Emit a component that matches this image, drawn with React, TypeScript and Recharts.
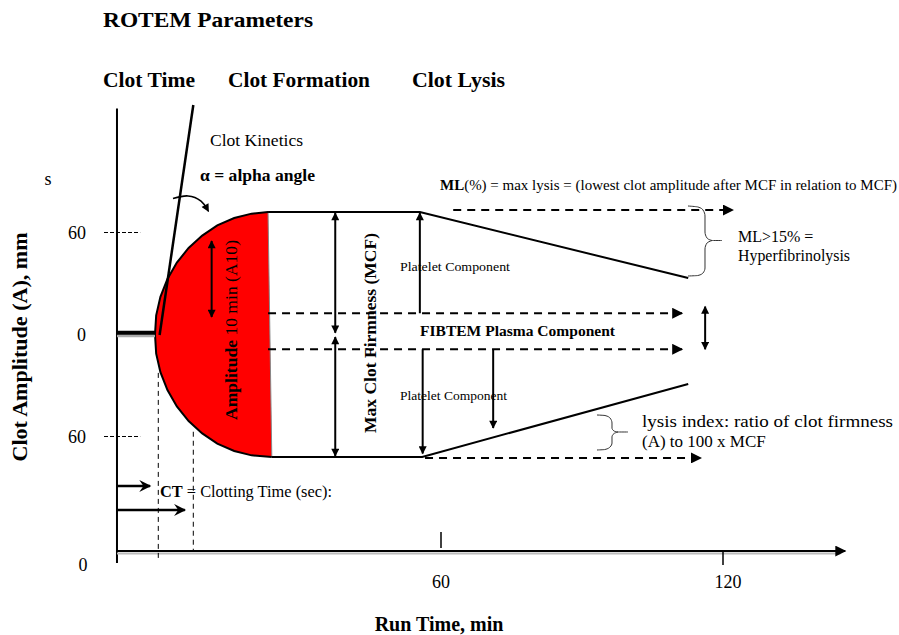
import React from "react";
import { ComposedChart, XAxis, YAxis, Line, Area, ReferenceLine, ReferenceDot } from "recharts";

const W = 899;
const H = 635;
const SERIF = "Liberation Serif, Times New Roman, Times, serif";
const TXT = { fontFamily: SERIF } as React.CSSProperties;

// Schematic coordinate system: run time (min) and clot amplitude (mm)
const timeDomain = [-30, 155];
const ampDomain = [-150, 190];

// Tick values and labels
const xTickValues = [60, 120];
const xTickLabels = ["60", "120"];
const yTickValues = [60, 0, -60];
const yTickLabels = ["60", "0", "60"];
const originLabel = "0";

// Clot formation curve: from clotting onset (left tip) to MCF
const arcUpperT = [-0.85, -0.6, 0.3, 1.8, 3.8, 6.3, 9.2, 12.4, 16.0, 19.7, 23.2];
const arcUpperA = [0, 11.3, 22.2, 32.7, 42.3, 50.9, 58.2, 64.2, 68.5, 71.1, 72];
const arcLowerT = [-0.85, -0.6, 0.3, 1.8, 3.8, 6.3, 9.2, 12.4, 16.0, 19.7, 24.0];
const arcLowerA = [0, -11.3, -22.2, -32.7, -42.3, -50.9, -58.2, -64.2, -68.5, -71.1, -72];

// MCF plateau and lysis traces
const upperTraceT = [23.2, 55.5, 112.6];
const upperTraceA = [72, 72, 33.2];
const lowerTraceT = [24.0, 56.0, 112.6];
const lowerTraceA = [-72, -72, -29.1];

// alpha-angle curved arrow
const alphaArcT = [2.98, 6.17, 8.94, 10.21];
const alphaArcA = [80.0, 81.5, 78.5, 73.8];

// Braces
const mlBraceTopT = [112.55, 114.68, 115.74, 116.17, 116.17, 116.6, 117.66, 119.79];
const mlBraceTopA = [75.59, 75.0, 73.24, 69.71, 60.29, 56.76, 55.29, 55.29];
const mlBraceBotT = [117.66, 116.6, 116.17, 116.17, 115.74, 114.68, 112.55];
const mlBraceBotA = [55.29, 53.82, 50.29, 39.12, 36.18, 34.71, 34.41];
const liBraceTopT = [93.19, 94.89, 95.96, 96.38, 96.38, 96.81, 97.66, 99.79];
const liBraceTopA = [-47.35, -47.65, -49.12, -52.06, -55.0, -56.76, -57.35, -57.35];
const liBraceBotT = [97.66, 96.81, 96.38, 96.38, 95.96, 94.89, 93.19];
const liBraceBotA = [-57.35, -58.24, -60.29, -63.82, -66.18, -67.65, -67.94];

// Straight segments [t1, A1, t2, A2]
const yAxisSeg = [-8.94, 133, -8.94, -134.4];
const xAxisSeg = [-8.94, -127.4, 146, -127.4];
const xAxisShadowSeg = [-8.94, -128.8, 145, -128.8];
const stubSeg = [-8.94, 1, -0.85, 1];
const stubShadowSeg = [-8.94, -0.8, -0.85, -0.8];
const alphaLineSeg = [7.3, 135, 0.13, -0.3];
const alphaHeadSeg = [9.89, 75.6, 10.53, 72.4];
const ctDash1Seg = [-0.15, -22.6, -0.15, -131.5];
const ctDash2Seg = [7.3, -57.2, 7.3, -126.8];
const ctArrow1Seg = [-8.94, -89.1, -1.9, -89.1];
const ctArrow2Seg = [-8.94, -103.2, 5.5, -103.2];
const a10Seg = [11.2, 55, 11.2, 10.3];
const mcfUpperSeg = [37.5, 71.5, 37.5, 1];
const mcfLowerSeg = [37.5, -1.5, 37.5, -71.5];
const plateletUpSeg = [55.5, 12.5, 55.5, 71.5];
const plateletDownSeg = [56.1, -8.7, 56.1, -70];
const lysisDownSeg = [71.1, -8.7, 71.1, -55];
const fibUpperSeg = [23.2, 12.5, 111.3, 12.5];
const fibLowerSeg = [23.2, -8.7, 111.3, -8.7];
const fibSpanSeg = [116.2, 16.4, 116.2, -8.7];
const mlDashSeg = [62.6, 73.2, 122.1, 73.2];
const liDashSeg = [56.6, -72.6, 115.3, -72.6];
const redEdgeSeg = [23.2, 72, 24.0, -72];
const xTickSpans = [
  [-116.2, -125.6],
  [-127.4, -135.6],
];
const yTickDashT = [-11.7, -4];

const pts = (T: number[], A: number[]) => T.map((t, i) => ({ t, A: A[i] }));

const redFill = [
  ...arcUpperT.map((t, i) => ({ t, range: [arcLowerA[i], arcUpperA[i]] })),
  { t: arcLowerT[arcLowerT.length - 1], range: [arcLowerA[arcLowerA.length - 1], arcLowerA[arcLowerA.length - 1]] },
];

const arcOutline = [
  ...pts(arcUpperT, arcUpperA).reverse(),
  ...pts(arcLowerT, arcLowerA).slice(1),
];

const seg = (key: string, s: number[], style: any) => (
  <ReferenceLine
    key={key}
    segment={[
      { x: s[0], y: s[1] },
      { x: s[2], y: s[3] },
    ]}
    ifOverflow="visible"
    shape={(p: any) => <line x1={p.x1} y1={p.y1} x2={p.x2} y2={p.y2} fill="none" {...style} />}
  />
);

const solid = (w: number) => ({ stroke: "#000", strokeWidth: w });
const dashed = { stroke: "#000", strokeWidth: 2, strokeDasharray: "8 6" };
const thinDash = { stroke: "#000", strokeWidth: 1, strokeDasharray: "5 4" };

const line = (key: string, data: any[], w: number, color = "#000", type: any = "linear") => (
  <Line
    key={key}
    data={data}
    dataKey="A"
    type={type}
    stroke={color}
    strokeWidth={w}
    dot={false}
    activeDot={false}
    isAnimationActive={false}
    legendType="none"
  />
);

export default function App() {
  return (
    <div style={{ position: "absolute", left: 0, top: 0, width: W, height: H, background: "#fff", fontFamily: SERIF }}>
      <svg width={0} height={0} style={{ position: "absolute" }}>
        <defs>
          <marker id="ahL" viewBox="0 0 10 10" refX="9" refY="5" markerWidth="13" markerHeight="11" markerUnits="userSpaceOnUse" orient="auto-start-reverse">
            <path d="M0,0 L10,5 L0,10 z" fill="#000" />
          </marker>
          <marker id="ahS" viewBox="0 0 10 10" refX="9" refY="5" markerWidth="9" markerHeight="8" markerUnits="userSpaceOnUse" orient="auto-start-reverse">
            <path d="M0,0 L10,5 L0,10 z" fill="#000" />
          </marker>
          <marker id="chev" viewBox="0 0 10 10" refX="9" refY="5" markerWidth="15" markerHeight="12" markerUnits="userSpaceOnUse" orient="auto">
            <path d="M0,0 L10,5 L0,10 L3.5,5 z" fill="#000" />
          </marker>
        </defs>
      </svg>
      <ComposedChart width={W} height={H} margin={{ top: 11.5, right: 11.5, bottom: 45.5, left: 18 }}>
        <XAxis type="number" dataKey="t" domain={timeDomain} allowDataOverflow hide />
        <YAxis type="number" domain={ampDomain} allowDataOverflow hide />
        <Area
          data={redFill}
          dataKey="range"
          type="linear"
          stroke="none"
          fill="#ff0000"
          fillOpacity={1}
          isAnimationActive={false}
          legendType="none"
          activeDot={false}
        />
        {seg("redEdge", redEdgeSeg, { stroke: "#888", strokeWidth: 1 })}
        {line("arc", arcOutline, 2)}
        {line("upper", pts(upperTraceT, upperTraceA), 2)}
        {line("lower", pts(lowerTraceT, lowerTraceA), 2)}
        {line("alphaArc", pts(alphaArcT, alphaArcA), 1.6, "#000", "natural")}
        {line("mlb1", pts(mlBraceTopT, mlBraceTopA), 1, "#333", "monotoneY")}
        {line("mlb2", pts(mlBraceBotT, mlBraceBotA), 1, "#333", "monotoneY")}
        {line("lib1", pts(liBraceTopT, liBraceTopA), 1, "#333", "monotoneY")}
        {line("lib2", pts(liBraceBotT, liBraceBotA), 1, "#333", "monotoneY")}

        {seg("yAxis", yAxisSeg, solid(2))}
        {seg("xAxisShadow", xAxisShadowSeg, { stroke: "#bbb", strokeWidth: 2 })}
        {seg("xAxis", xAxisSeg, { ...solid(2), markerEnd: "url(#ahL)" })}
        {seg("stubShadow", stubShadowSeg, { stroke: "#aaa", strokeWidth: 3 })}
        {seg("stub", stubSeg, solid(4))}
        {seg("alphaLine", alphaLineSeg, solid(2.5))}
        {seg("alphaHead", alphaHeadSeg, { ...solid(1.2), markerEnd: "url(#ahS)" })}
        {seg("ctDash1", ctDash1Seg, thinDash)}
        {seg("ctDash2", ctDash2Seg, thinDash)}
        {seg("ctArrow1", ctArrow1Seg, { ...solid(2.5), markerEnd: "url(#chev)" })}
        {seg("ctArrow2", ctArrow2Seg, { ...solid(2.5), markerEnd: "url(#chev)" })}
        {seg("a10", a10Seg, { ...solid(2), markerStart: "url(#ahS)", markerEnd: "url(#ahS)" })}
        {seg("mcfU", mcfUpperSeg, { ...solid(2), markerStart: "url(#ahS)", markerEnd: "url(#ahS)" })}
        {seg("mcfL", mcfLowerSeg, { ...solid(2), markerStart: "url(#ahS)", markerEnd: "url(#ahS)" })}
        {seg("platUp", plateletUpSeg, { ...solid(2), markerEnd: "url(#ahS)" })}
        {seg("platDown", plateletDownSeg, { ...solid(2), markerEnd: "url(#ahS)" })}
        {seg("lysisDown", lysisDownSeg, { ...solid(2), markerEnd: "url(#ahS)" })}
        {seg("fibU", fibUpperSeg, { ...dashed, markerEnd: "url(#ahL)" })}
        {seg("fibL", fibLowerSeg, { ...dashed, markerEnd: "url(#ahL)" })}
        {seg("fibSpan", fibSpanSeg, { ...solid(2), markerStart: "url(#ahS)", markerEnd: "url(#ahS)" })}
        {seg("mlDash", mlDashSeg, { ...dashed, markerEnd: "url(#ahL)" })}
        {seg("liDash", liDashSeg, { ...dashed, markerEnd: "url(#ahL)" })}

        {yTickValues.map((v, i) =>
          seg(`ytick${i}`, [yTickDashT[0], v, yTickDashT[1], v], v === 0 ? { stroke: "none" } : { stroke: "#000", strokeWidth: 1, strokeDasharray: "4 2" })
        )}
        {yTickValues.map((v, i) => (
          <ReferenceDot
            key={`ylab${i}`}
            x={yTickDashT[0]}
            y={v}
            ifOverflow="visible"
            shape={(p: any) => (
              <text x={p.cx - 18} y={p.cy} dy="0.35em" textAnchor="end" fontSize={18} style={TXT} fill="#000">
                {yTickLabels[i]}
              </text>
            )}
          />
        ))}
        {xTickValues.map((v, i) => seg(`xtick${i}`, [v, xTickSpans[i][0], v, xTickSpans[i][1]], solid(1.5)))}
        {xTickValues.map((v, i) => (
          <ReferenceDot
            key={`xlab${i}`}
            x={v}
            y={xAxisSeg[1]}
            ifOverflow="visible"
            shape={(p: any) => (
              <text x={p.cx + (i === 1 ? 5 : 0)} y={p.cy + 37} textAnchor="middle" fontSize={18} style={TXT} fill="#000">
                {xTickLabels[i]}
              </text>
            )}
          />
        ))}
        <ReferenceDot
          x={xAxisSeg[0]}
          y={xAxisSeg[1]}
          ifOverflow="visible"
          shape={(p: any) => (
            <text x={p.cx - 34} y={p.cy + 20} textAnchor="middle" fontSize={18} style={TXT} fill="#000">
              {originLabel}
            </text>
          )}
        />
      </ComposedChart>

      <svg width={W} height={H} style={{ position: "absolute", left: 0, top: 0, pointerEvents: "none", fontFamily: SERIF }} fill="#000">
        <text style={TXT} x={103} y={27} fontSize={22} fontWeight="bold" textLength={210} lengthAdjust="spacingAndGlyphs">ROTEM Parameters</text>
        <text style={TXT} x={103} y={87} fontSize={21} fontWeight="bold" textLength={92} lengthAdjust="spacingAndGlyphs">Clot Time</text>
        <text style={TXT} x={228} y={87} fontSize={21} fontWeight="bold" textLength={142} lengthAdjust="spacingAndGlyphs">Clot Formation</text>
        <text style={TXT} x={412} y={87} fontSize={21} fontWeight="bold" textLength={93} lengthAdjust="spacingAndGlyphs">Clot Lysis</text>
        <text style={TXT} x={210} y={146} fontSize={17} textLength={93} lengthAdjust="spacingAndGlyphs">Clot Kinetics</text>
        <text style={TXT} x={200} y={181} fontSize={17} fontWeight="bold" textLength={115} lengthAdjust="spacingAndGlyphs">α = alpha angle</text>
        <text style={TXT} x={48} y={185} fontSize={18} textAnchor="middle">s</text>
        <text style={TXT} x={440} y={190} fontSize={15} textLength={457} lengthAdjust="spacingAndGlyphs">
          <tspan fontWeight="bold">ML</tspan>(%) = max lysis = (lowest clot amplitude after MCF in relation to MCF)
        </text>
        <text style={TXT} x={738} y={242} fontSize={16}>ML&gt;15% =</text>
        <text style={TXT} x={738} y={261} fontSize={16} textLength={112} lengthAdjust="spacingAndGlyphs">Hyperfibrinolysis</text>
        <text style={TXT} x={400} y={271} fontSize={12} textLength={110} lengthAdjust="spacingAndGlyphs">Platelet Component</text>
        <text style={TXT} x={420} y={336} fontSize={15} fontWeight="bold" textLength={195} lengthAdjust="spacingAndGlyphs">FIBTEM Plasma Component</text>
        <text style={TXT} x={400} y={400} fontSize={12} textLength={107} lengthAdjust="spacingAndGlyphs">Platelet Component</text>
        <text style={TXT} x={642} y={427} fontSize={17} textLength={251} lengthAdjust="spacingAndGlyphs">lysis index: ratio of clot firmness</text>
        <text style={TXT} x={642} y={447} fontSize={17}>(A) to 100 x MCF</text>
        <text style={TXT} x={160} y={497} fontSize={17} textLength={172} lengthAdjust="spacingAndGlyphs">
          <tspan fontWeight="bold">CT</tspan> = Clotting Time (sec):
        </text>
        <text style={TXT} x={231} y={330} fontSize={17} textAnchor="middle" dominantBaseline="central" transform="rotate(-90 231 330)" textLength={180} lengthAdjust="spacingAndGlyphs">
          <tspan fontWeight="bold">Amplitude</tspan> 10 min (A10)
        </text>
        <text style={TXT} x={370} y={333} fontSize={16} fontWeight="bold" textAnchor="middle" dominantBaseline="central" transform="rotate(-90 370 333)" textLength={200} lengthAdjust="spacingAndGlyphs">
          Max Clot Firmness (MCF)
        </text>
        <text style={TXT} x={20} y={347} fontSize={21} fontWeight="bold" textAnchor="middle" dominantBaseline="central" transform="rotate(-90 20 347)" textLength={229} lengthAdjust="spacingAndGlyphs">
          Clot Amplitude (A), mm
        </text>
        <text style={TXT} x={439} y={631} fontSize={20} fontWeight="bold" textAnchor="middle">Run Time, min</text>
      </svg>
    </div>
  );
}
